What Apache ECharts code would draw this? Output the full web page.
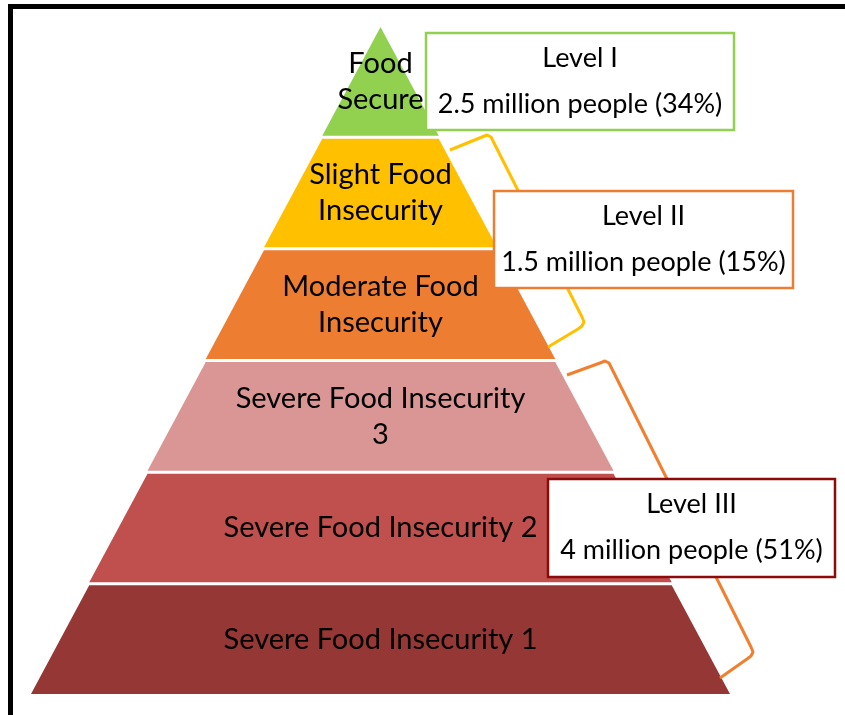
<!DOCTYPE html>
<html>
<head>
<meta charset="utf-8">
<script src="https://cdn.jsdelivr.net/npm/echarts@6/dist/echarts.min.js"></script>
<style>
html,body{margin:0;padding:0;background:#fff;}
#chart{width:845px;height:715px;}
</style>
</head>
<body>
<div id="chart"></div>
<script>
// Pyramid tiers, top to bottom
const categories = [
  'Food\nSecure',
  'Slight Food\nInsecurity',
  'Moderate Food\nInsecurity',
  'Severe Food Insecurity\n3',
  'Severe Food Insecurity 2',
  'Severe Food Insecurity 1'
];
// Relative width of each tier's lower edge (tier rank, 1 = narrowest)
const tierWidths = [1, 2, 3, 4, 5, 6];
const tierColors = ['#92D050', '#FFC000', '#ED7D31', '#D99694', '#C0504D', '#953735'];

// Level call-out boxes
const levelTitles = ['Level I', 'Level II', 'Level III'];
const levelTexts = ['2.5 million people (34%)', '1.5 million people (15%)', '4 million people (51%)'];
const levelColors = ['#92D050', '#ED7D31', '#8B0A0A'];

const chart = echarts.init(document.getElementById('chart'), null, {renderer: 'canvas'});

const labelFont = 'Lato, "Open Sans", sans-serif';
const boxFont = 'Lato, "Open Sans", sans-serif';

function box(x, y, w, h, i) {
  return {
    type: 'group', z: 100,
    children: [
      {type: 'rect', shape: {x: x, y: y, width: w, height: h},
       style: {fill: '#fff', stroke: levelColors[i], lineWidth: 2.5}, z: 100},
      {type: 'text', x: x + w / 2, y: y + 25, z: 101,
       style: {text: levelTitles[i], fill: '#000', font: '27px ' + boxFont,
               textAlign: 'center', textVerticalAlign: 'middle'}},
      {type: 'text', x: x + w / 2, y: y + 71, z: 101,
       style: {text: levelTexts[i], fill: '#000', font: '27px ' + boxFont,
               textAlign: 'center', textVerticalAlign: 'middle'}}
    ]
  };
}

const option = {
  backgroundColor: '#fff',
  animation: false,
  graphic: [
    // frame
    {type: 'rect', shape: {x: 8, y: 4, width: 845, height: 5}, style: {fill: '#000'}, z: 50},
    {type: 'rect', shape: {x: 8, y: 4, width: 5, height: 715}, style: {fill: '#000'}, z: 50},
    // brackets
    {type: 'polyline', z: 40,
     shape: {points: [[450,150],[482,137],[487,135],[491,137],[493,141],[582,317],[584,322],[582,326],[578,329],[548,347]]},
     style: {fill: null, stroke: '#FFC000', lineWidth: 3, lineJoin: 'round'}},
    {type: 'polyline', z: 40,
     shape: {points: [[567,375],[600,363],[605,361],[609,363],[611,367],[751,647],[753,652],[751,656],[747,659],[720,678]]},
     style: {fill: null, stroke: '#F08030', lineWidth: 3, lineJoin: 'round'}},
    box(426, 33, 308, 97, 0),
    box(494, 191, 299, 97, 1),
    box(548, 479, 287, 98, 2)
  ],
  series: [{
    type: 'funnel',
    sort: 'ascending',
    left: 31, top: 27, width: 699, height: 667,
    min: 0, max: 6,
    minSize: '0%', maxSize: '100%',
    gap: 3,
    z: 2,
    label: {
      show: true, position: 'inside',
      color: '#000', fontSize: 29, fontFamily: labelFont, lineHeight: 36
    },
    labelLine: {show: false},
    itemStyle: {borderWidth: 0},
    emphasis: {disabled: true},
    data: categories.map((c, i) => ({
      name: c, value: tierWidths[i],
      itemStyle: {color: tierColors[i]}
    }))
  }]
};
chart.setOption(option);
</script>
</body>
</html>
